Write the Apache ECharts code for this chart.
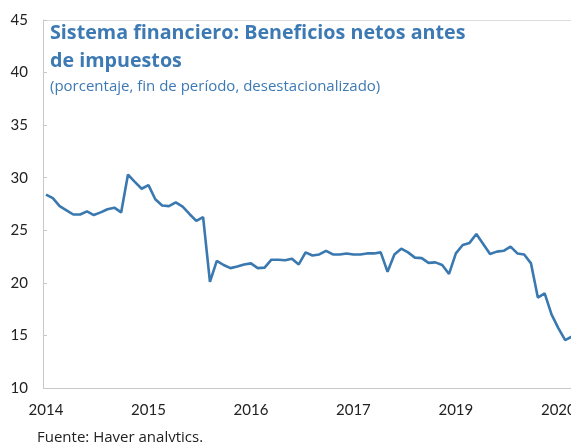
<!DOCTYPE html>
<html>
<head>
<meta charset="utf-8">
<script src="https://cdn.jsdelivr.net/npm/echarts@6/dist/echarts.min.js"></script>
<style>
  html, body { margin: 0; padding: 0; background: #fff; }
  #chart { width: 571px; height: 442px; }
</style>
</head>
<body>
<div id="chart"></div>
<script>
// monthly, Jan 2014 - Jun 2020
var startYear = 2014;
var beneficios = [
  28.4, 28.05, 27.3, 26.9, 26.5, 26.5, 26.8, 26.45, 26.7, 27.0, 27.15, 26.7,
  30.3, 29.6, 28.95, 29.3, 27.95, 27.35, 27.3, 27.65, 27.25, 26.55, 25.9, 26.25,
  20.1, 22.1, 21.7, 21.4, 21.55, 21.75, 21.85, 21.4, 21.45, 22.2, 22.2, 22.15,
  22.3, 21.75, 22.9, 22.6, 22.7, 23.05, 22.7, 22.7, 22.8, 22.7, 22.7, 22.8,
  22.8, 22.9, 21.05, 22.7, 23.25, 22.9, 22.4, 22.35, 21.9, 21.95, 21.7, 20.85,
  22.8, 23.6, 23.8, 24.65, 23.7, 22.75, 22.97, 23.05, 23.45, 22.8, 22.7, 21.85,
  18.6, 19.0, 17.0, 15.7, 14.55, 14.9
];
var meses = [];
for (var i = 0; i < beneficios.length; i++) {
  var y = startYear + Math.floor(i / 12);
  var m = (i % 12) + 1;
  meses.push(y + '-' + (m < 10 ? '0' + m : m));
}
var yTicks = { min: 10, max: 45, step: 5 };

var myChart = echarts.init(document.getElementById('chart'));
var option = {
  animation: false,
  backgroundColor: '#fff',
  title: [{
    text: 'Sistema financiero: Beneficios netos antes\nde impuestos',
    subtext: '(porcentaje, fin de período, desestacionalizado)',
    left: 45,
    top: 14,
    itemGap: 3,
    textStyle: {
      fontFamily: 'Open Sans', fontSize: 19.7, fontWeight: 'bold',
      color: '#3d7ab3', lineHeight: 28
    },
    subtextStyle: {
      fontFamily: 'Open Sans', fontSize: 15, color: '#3d7ab3', lineHeight: 18
    }
  }, {
    text: 'Fuente: Haver analytics.',
    left: 32,
    top: 425,
    textStyle: {
      fontFamily: 'Open Sans', fontSize: 15, fontWeight: 'normal', color: '#222'
    }
  }],
  grid: { left: 46, right: -1, top: 20, bottom: 54, outerBoundsMode: 'none' },
  xAxis: [{
    type: 'category',
    data: meses,
    boundaryGap: false,
    axisLine: { lineStyle: { color: '#c8c8c8', width: 1 } },
    axisTick: { show: false },
    axisLabel: {
      interval: 14,
      margin: 15,
      color: '#222',
      fontFamily: 'Lato',
      fontSize: 15,
      formatter: function (v) { return v.slice(0, 4); }
    },
    splitLine: { show: false }
  }, {
    type: 'category',
    data: meses,
    position: 'top',
    boundaryGap: false,
    axisLine: { lineStyle: { color: '#dcdcdc', width: 1 } },
    axisTick: { show: false },
    axisLabel: { show: false }
  }],
  yAxis: {
    type: 'value',
    min: yTicks.min,
    max: yTicks.max,
    interval: yTicks.step,
    offset: 3,
    axisLine: { show: true, lineStyle: { color: '#c8c8c8', width: 1 } },
    axisTick: { show: true, inside: true, length: 4, lineStyle: { color: '#c8c8c8' } },
    axisLabel: { margin: 15, color: '#222', fontFamily: 'Lato', fontSize: 15 },
    splitLine: { show: false }
  },
  series: [{
    type: 'line',
    data: beneficios,
    symbol: 'none',
    lineStyle: { color: '#3a78b0', width: 2.6 },
    clip: true
  }]
};
myChart.setOption(option);
</script>
</body>
</html>
